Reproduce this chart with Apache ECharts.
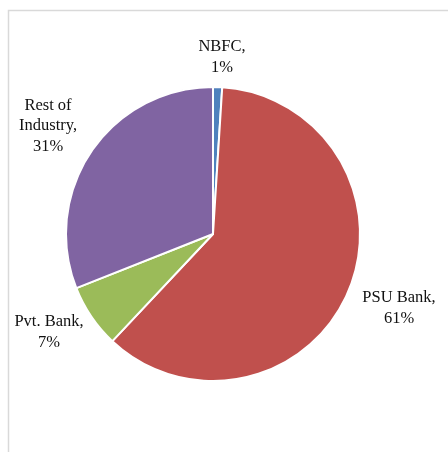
<!DOCTYPE html>
<html>
<head>
<meta charset="utf-8">
<script src="https://cdn.jsdelivr.net/npm/echarts@6/dist/echarts.min.js"></script>
<style>
  html, body { margin: 0; padding: 0; background: #ffffff; }
  #chart { width: 448px; height: 452px; }
</style>
</head>
<body>
<div id="chart"></div>
<script>
// Share of exposure by lender type
const categories = ['NBFC', 'PSU Bank', 'Pvt. Bank', 'Rest of Industry'];
const shares = [1, 61, 7, 31];
const labelTexts = ['NBFC,\n1%', 'PSU Bank,\n61%', 'Pvt. Bank,\n7%', 'Rest of\nIndustry,\n31%'];
const sliceColors = ['#4F81BD', '#C0504D', '#9BBB59', '#8064A2'];

// Label anchor points (centre of each text block)
const labelSpots = [[222, 57], [399, 308], [49, 332], [48, 126]];

const chart = echarts.init(document.getElementById('chart'));
chart.setOption({
  backgroundColor: '#ffffff',
  animation: false,
  graphic: [{
    type: 'rect',
    shape: { x: 8.5, y: 10.5, width: 600, height: 600 },
    style: { fill: 'none', stroke: '#d9d9d9', lineWidth: 1.5 },
    silent: true
  }],
  series: [{
    type: 'pie',
    center: [213, 234],
    radius: [0, 147],
    startAngle: 90,
    clockwise: true,
    avoidLabelOverlap: false,
    itemStyle: { borderColor: '#ffffff', borderWidth: 2 },
    label: {
      show: true,
      position: 'outside',
      formatter: p => labelTexts[p.dataIndex],
      fontFamily: '"Liberation Serif", "DejaVu Serif", serif',
      fontSize: 16.5,
      lineHeight: 20.5,
      color: '#111111',
      align: 'center'
    },
    labelLine: { show: false },
    labelLayout: p => ({
      x: labelSpots[p.dataIndex][0],
      y: labelSpots[p.dataIndex][1],
      align: 'center',
      verticalAlign: 'middle'
    }),
    data: categories.map((c, i) => ({
      name: c,
      value: shares[i],
      itemStyle: { color: sliceColors[i] }
    }))
  }]
});
</script>
</body>
</html>
